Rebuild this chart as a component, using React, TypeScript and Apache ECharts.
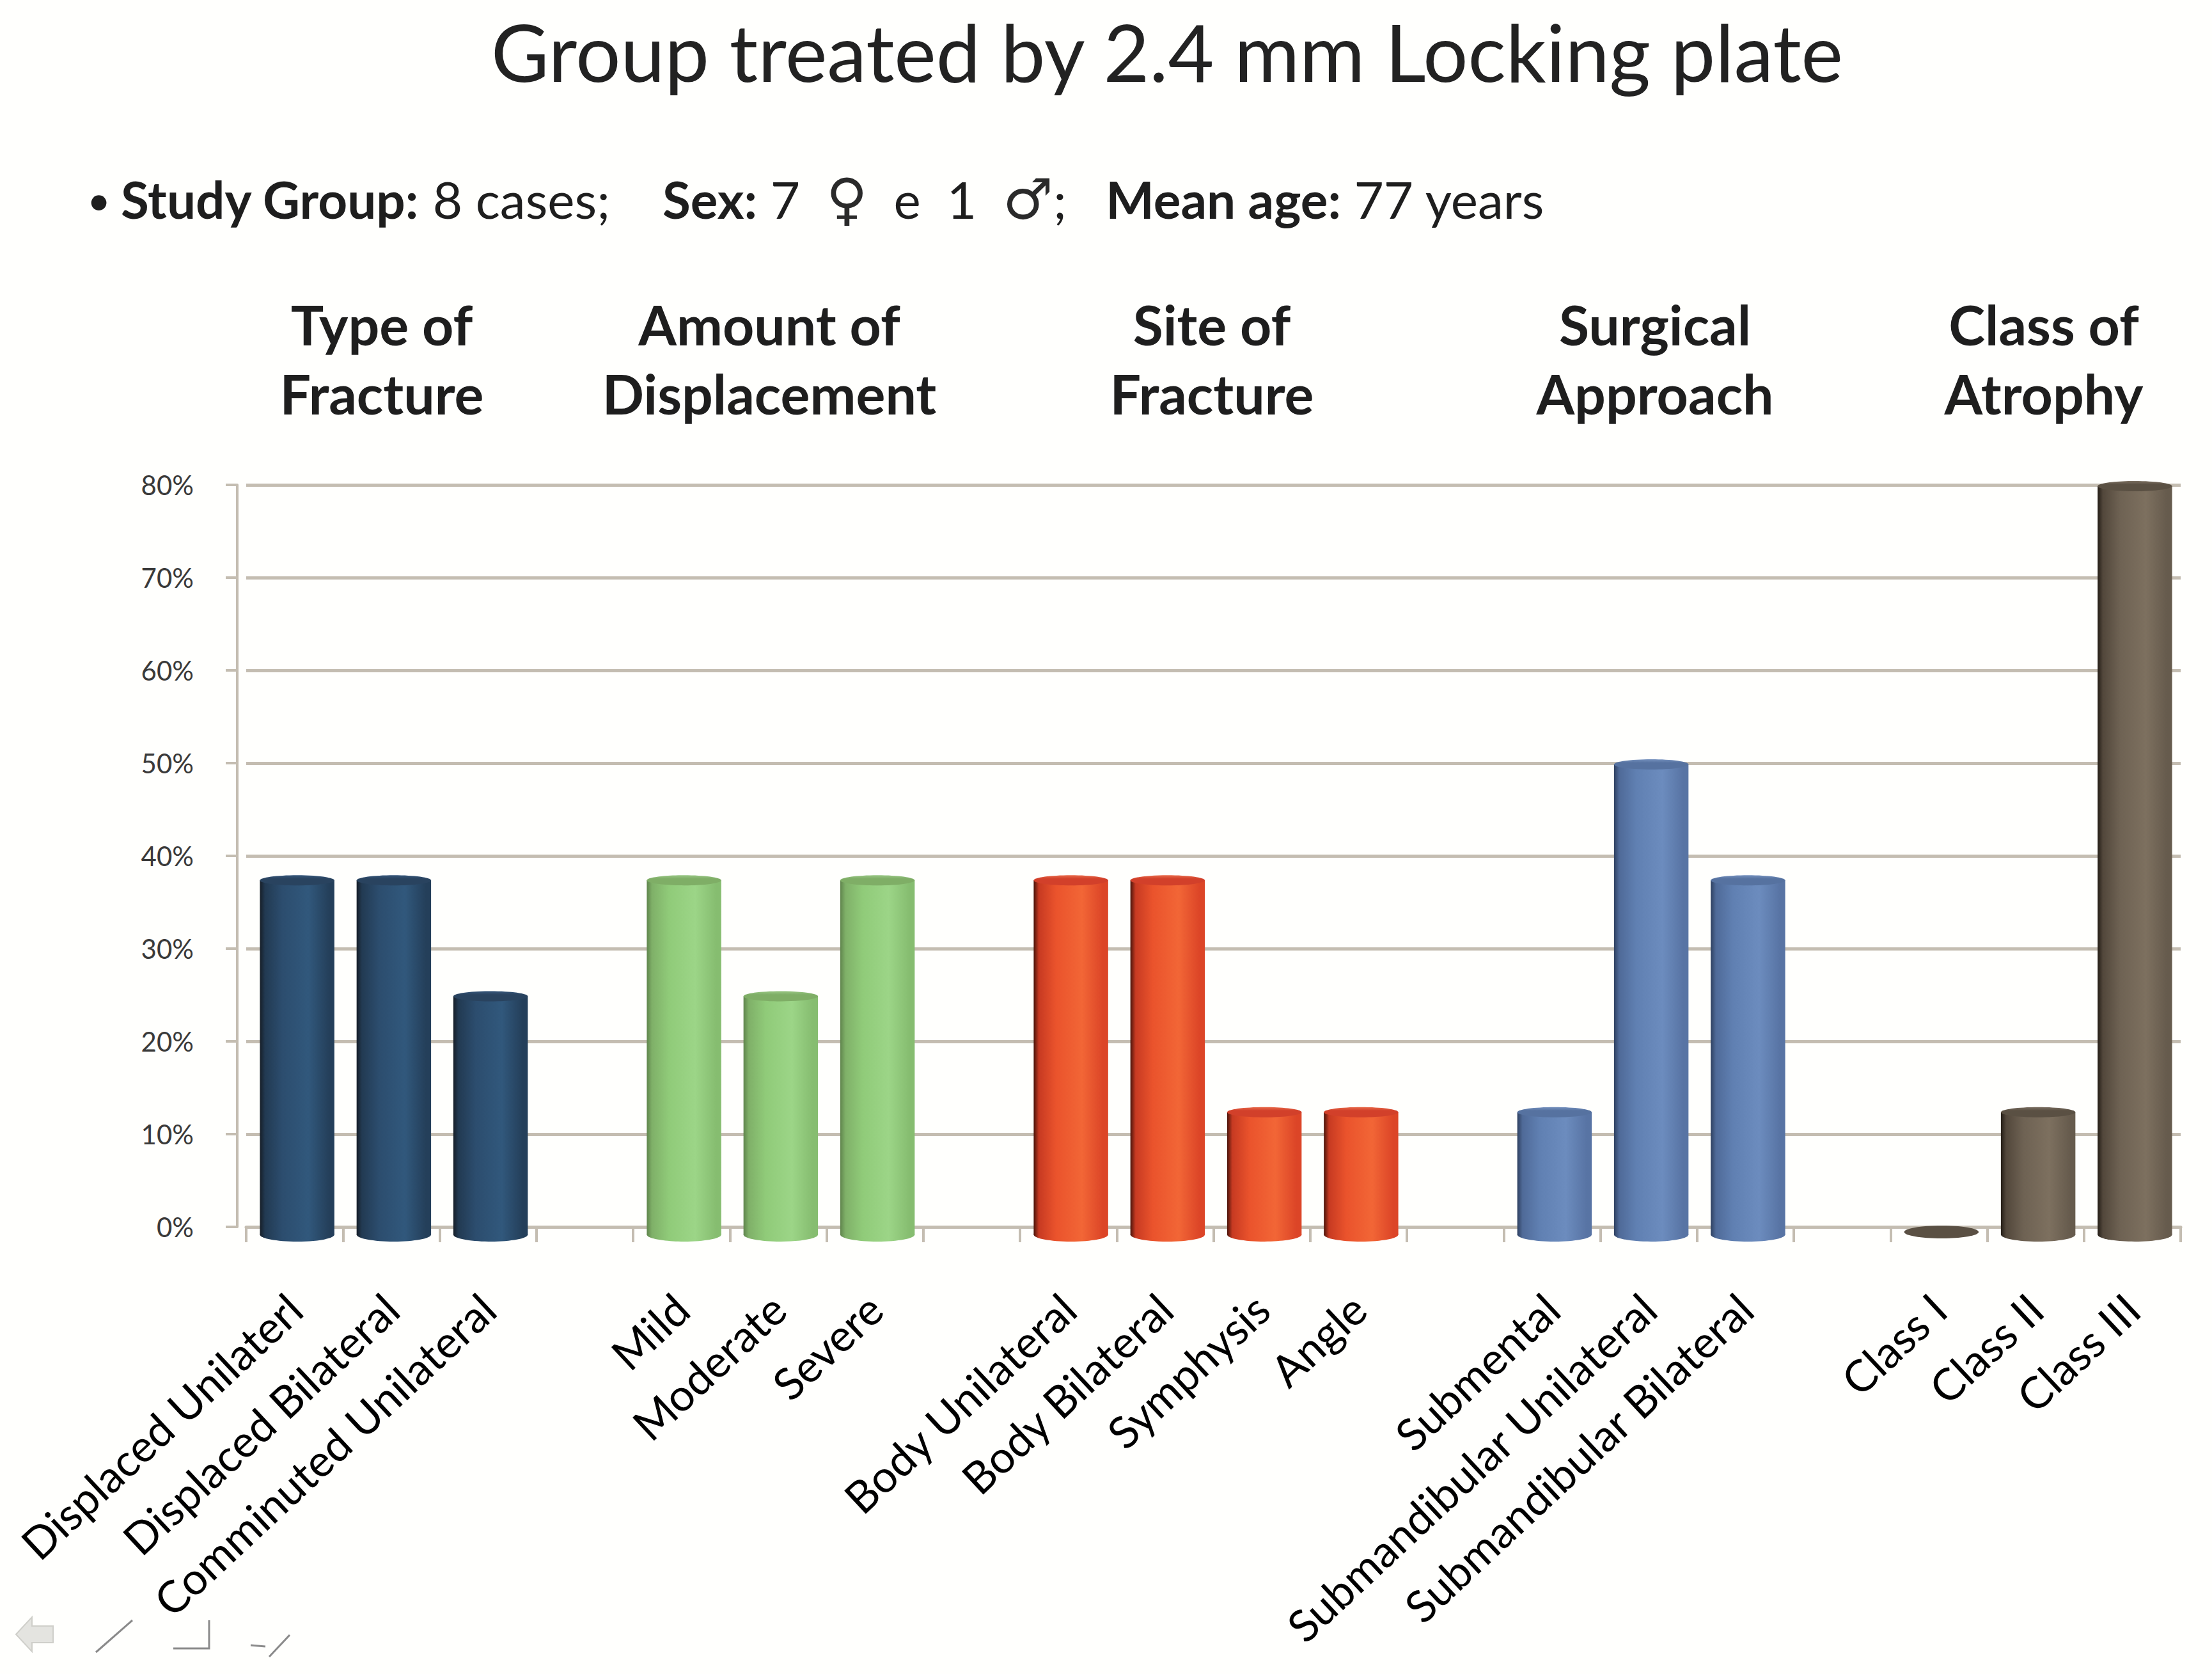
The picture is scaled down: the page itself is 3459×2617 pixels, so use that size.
import React, { useEffect, useRef } from "react";
import * as echarts from "echarts";

// ---------- data ----------
const groupTitles = ["Type of\nFracture", "Amount of\nDisplacement", "Site of\nFracture", "Surgical\nApproach", "Class of\nAtrophy"];
const typeCategories = ["Displaced Unilaterl", "Displaced Bilateral", "Comminuted Unilateral"];
const typeValues = [37.5, 37.5, 25];
const displacementCategories = ["Mild", "Moderate", "Severe"];
const displacementValues = [37.5, 25, 37.5];
const siteCategories = ["Body Unilateral", "Body Bilateral", "Symphysis", "Angle"];
const siteValues = [37.5, 37.5, 12.5, 12.5];
const approachCategories = ["Submental", "Submandibular Unilateral", "Submandibular Bilateral"];
const approachValues = [12.5, 50, 37.5];
const atrophyCategories = ["Class I", "Class II", "Class III"];
const atrophyValues = [0, 12.5, 80];
const yTicks = [0, 10, 20, 30, 40, 50, 60, 70, 80];

const groups = [
  { cats: typeCategories, vals: typeValues },
  { cats: displacementCategories, vals: displacementValues },
  { cats: siteCategories, vals: siteValues },
  { cats: approachCategories, vals: approachValues },
  { cats: atrophyCategories, vals: atrophyValues },
];

// ---------- styles ----------
const palettes = [
  { edge: "#161e28", dark: "#223a52", main: "#2c4d6e", light: "#31587c", rim: "#243f5a", cap: "#29435f", capLight: "#36567a" },
  { edge: "#5f844c", dark: "#7fb068", main: "#90cb79", light: "#9cd587", rim: "#86bd70", cap: "#7fae66", capLight: "#98c684" },
  { edge: "#4a140a", dark: "#c73a22", main: "#ea532c", light: "#f26636", rim: "#dc4527", cap: "#d2402a", capLight: "#e86a4a" },
  { edge: "#2e4060", dark: "#4f6a98", main: "#6080b2", light: "#6c8cbe", rim: "#5874a4", cap: "#5672a0", capLight: "#7490bd" },
  { edge: "#241d16", dark: "#52473b", main: "#6e6253", light: "#7d705f", rim: "#665b4d", cap: "#5a5043", capLight: "#7a6e60" },
];
const lineColor = "#c4bdb1";
const headerX = [597, 1203, 1895, 2588, 3196];

// build category axis and series data
const categories: string[] = [];
const seriesData: number[][] = [];
groups.forEach((g, gi) => {
  if (gi > 0) categories.push(" ".repeat(gi));
  g.cats.forEach((c, i) => {
    seriesData.push([categories.length, g.vals[i], gi]);
    categories.push(c);
  });
});

export default function App() {
  const ref = useRef<HTMLDivElement>(null);
  useEffect(() => {
    document.body.style.margin = "0";
    const chart = echarts.init(ref.current!, null, { renderer: "svg" });
    const option: any = {
      animation: false,
      backgroundColor: "#fffffd",
      grid: { left: 385, top: 758, width: 3025, height: 1160, containLabel: false, outerBoundsMode: "none" },
      xAxis: {
        type: "category",
        data: categories,
        offset: 25,
        axisLine: { show: true, lineStyle: { color: lineColor, width: 5 } },
        axisTick: { show: true, interval: 0, length: 24, lineStyle: { color: lineColor, width: 4 } },
        axisLabel: { interval: 0, rotate: 43, fontFamily: "Lato", fontSize: 69, color: "#000", margin: 92 },
        splitLine: { show: false },
      },
      yAxis: {
        type: "value",
        min: yTicks[0],
        max: yTicks[yTicks.length - 1],
        interval: 10,
        offset: 14,
        axisLine: { show: true, lineStyle: { color: lineColor, width: 4 } },
        axisTick: { show: true, length: 18, lineStyle: { color: lineColor, width: 4 } },
        axisLabel: { formatter: "{value}%", fontFamily: "Lato", fontSize: 42, color: "#3a3a3a", margin: 68, padding: [26, 0, 0, 0] },
        splitLine: { show: true, lineStyle: { color: lineColor, width: 5 } },
      },
      series: [
        {
          type: "custom",
          dimensions: ["x", "y", "g"],
          encode: { x: 0, y: 1 },
          data: seriesData,
          renderItem: (params: any, api: any) => {
            const ci = api.value(0);
            const v = api.value(1);
            const g = api.value(2);
            const top = api.coord([ci, v]);
            const base = api.coord([ci, 0]);
            const bw = api.size([1, 0])[0] * 0.77;
            const cx = top[0] + 4;
            const yTop = top[1] + 2;
            const yBase = base[1] + 12;
            const rx = bw / 2;
            const p = palettes[g];
            const bodyFill = {
              type: "linear", x: 0, y: 0, x2: 1, y2: 0,
              colorStops: [
                { offset: 0, color: p.edge },
                { offset: 0.07, color: p.dark },
                { offset: 0.3, color: p.main },
                { offset: 0.65, color: p.light },
                { offset: 0.93, color: p.rim },
                { offset: 1, color: p.rim },
              ],
            };
            const capFill = {
              type: "linear", x: 0, y: 0, x2: 0, y2: 1,
              colorStops: [
                { offset: 0, color: p.capLight },
                { offset: 0.35, color: p.cap },
                { offset: 1, color: p.cap },
              ],
            };
            const flat = v === 0;
            return {
              type: "group",
              children: flat
                ? [{ type: "ellipse", shape: { cx, cy: yBase - 4, rx, ry: 10 }, style: { fill: p.cap } }]
                : [
                    { type: "ellipse", shape: { cx, cy: yBase, rx, ry: 11 }, style: { fill: bodyFill } },
                    { type: "rect", shape: { x: cx - rx, y: yTop, width: bw, height: Math.max(0, yBase - yTop) }, style: { fill: bodyFill } },
                    { type: "ellipse", shape: { cx, cy: yTop, rx, ry: 8 }, style: { fill: capFill } },
                  ],
            };
          },
        },
      ],
      graphic: [
        {
          type: "text", x: 1825, y: 80,
          style: { text: "Group treated by 2.4 mm Locking plate", fontFamily: "Lato", fontSize: 124, lineHeight: 130, fill: "#222", align: "center", verticalAlign: "middle", textAlign: "center", textVerticalAlign: "middle" },
        },
        {
          type: "text", x: 136, y: 311,
          style: { text: "•", fontFamily: "Lato", fontSize: 64, fill: "#1e1e1e", verticalAlign: "middle", textVerticalAlign: "middle" },
        },
        {
          type: "text", x: 189, y: 311,
          style: {
            text: "{b|Study Group:}{r| 8 cases;    }{b|Sex:}{r| 7  }{s|♀}{r|  e  1  }{s|♂}{r|;   }{b|Mean age:}{r| 77 years}",
            verticalAlign: "middle", textVerticalAlign: "middle",
            rich: {
              b: { fontFamily: "Lato", fontSize: 80, fontWeight: "bold", fill: "#1e1e1e", color: "#1e1e1e" },
              r: { fontFamily: "Lato", fontSize: 80, fill: "#1e1e1e", color: "#1e1e1e" },
              s: { fontFamily: "DejaVu Sans", fontSize: 88, fontWeight: "normal", fill: "#2a2a2a", color: "#2a2a2a" },
            },
          },
        },
        ...groupTitles.map((t, i) => ({
          type: "text", x: headerX[i], y: 560,
          style: { text: t, fontFamily: "Lato", fontSize: 86, fontWeight: "bold", lineHeight: 108, fill: "#1e1e1e", align: "center", verticalAlign: "middle", textAlign: "center", textVerticalAlign: "middle" },
        })),
        // slideshow toolbar glyphs (bottom left)
        {
          type: "polygon",
          shape: { points: [[25, 2555], [50, 2528], [50, 2542], [83, 2542], [83, 2568], [50, 2568], [50, 2582]] },
          style: { fill: "#e4e4e0", stroke: "#cfcfca", lineWidth: 2 },
        },
        { type: "line", shape: { x1: 150, y1: 2583, x2: 207, y2: 2533 }, style: { stroke: "#8a8a8a", lineWidth: 3 } },
        { type: "polyline", shape: { points: [[271, 2577], [327, 2577], [327, 2533]] }, style: { stroke: "#8a8a8a", lineWidth: 3, fill: "none" } },
        { type: "line", shape: { x1: 392, y1: 2572, x2: 415, y2: 2574 }, style: { stroke: "#8a8a8a", lineWidth: 3 } },
        { type: "line", shape: { x1: 421, y1: 2590, x2: 453, y2: 2556 }, style: { stroke: "#8a8a8a", lineWidth: 3 } },
      ],
    };
    chart.setOption(option);
    return () => chart.dispose();
  }, []);
  return <div ref={ref} style={{ width: 3459, height: 2617, position: "absolute", left: 0, top: 0 }} />;
}
